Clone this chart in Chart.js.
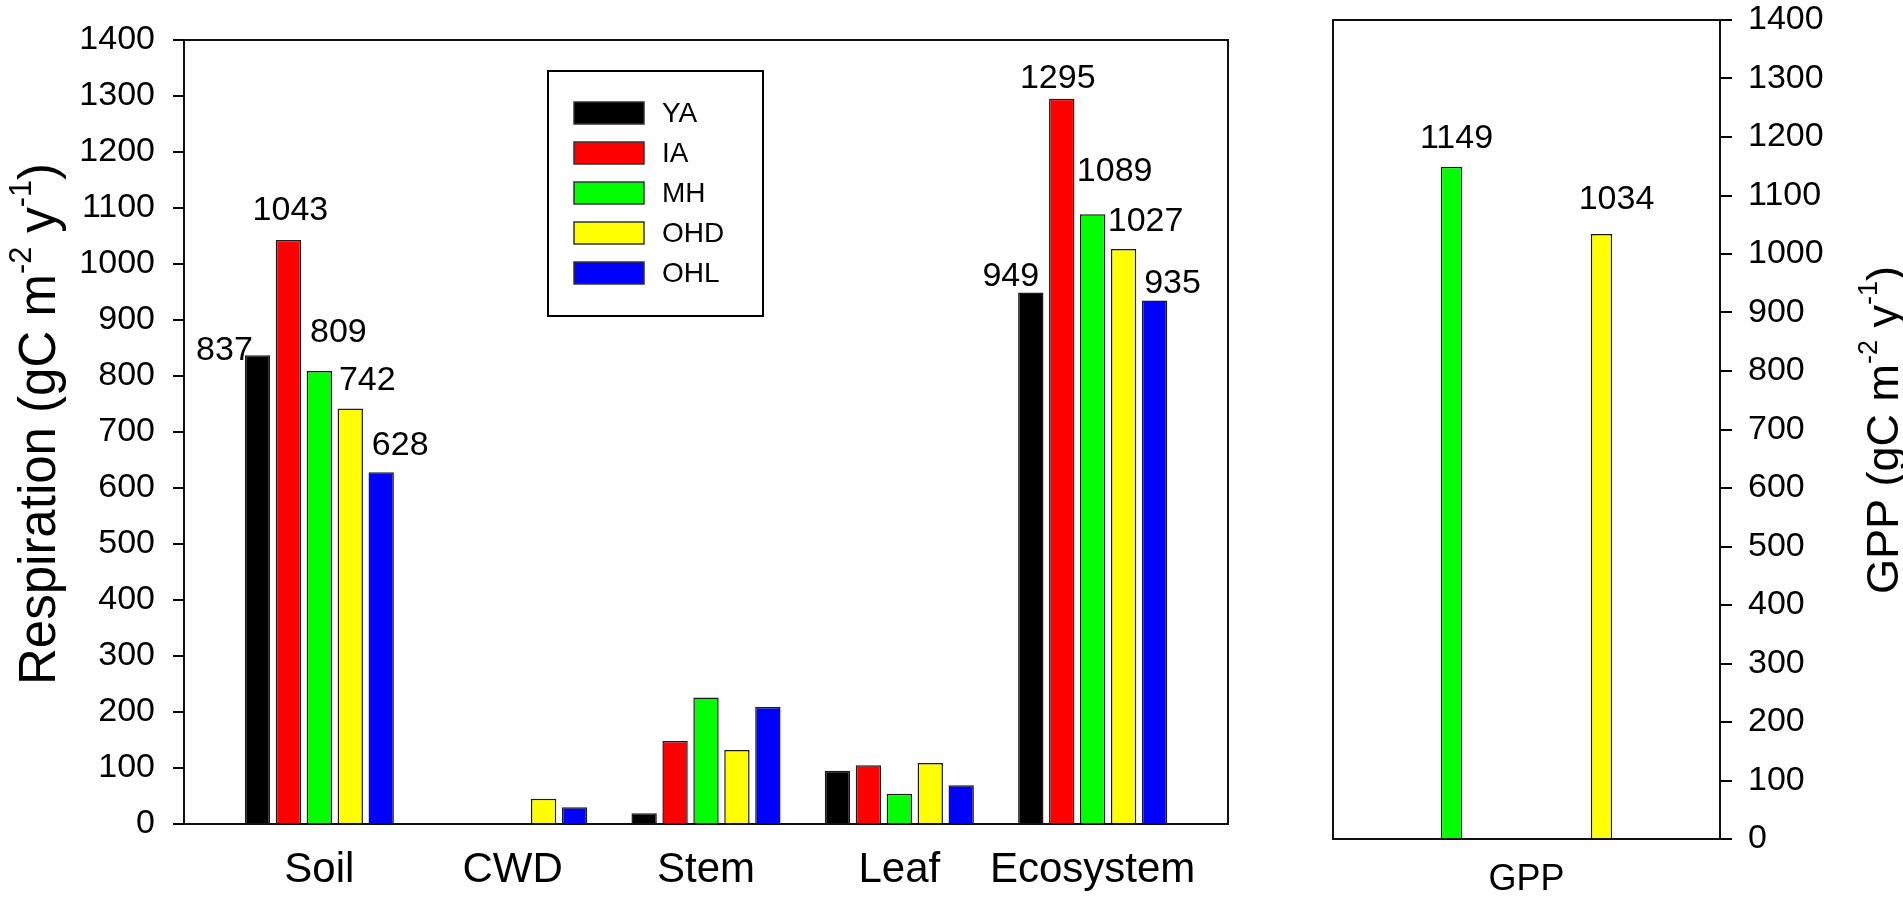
<!DOCTYPE html>
<html>
<head>
<meta charset="utf-8">
<script src="https://cdn.jsdelivr.net/npm/chart.js@4.4.1/dist/chart.umd.min.js"></script>
<style>
  html, body { margin: 0; padding: 0; background: #ffffff; }
  body { width: 1903px; height: 901px; position: relative; overflow: hidden; }
  #left { position: absolute; left: 0; top: 0; }
  #right { position: absolute; left: 1300px; top: 0; }
</style>
</head>
<body>
<canvas id="left" width="1300" height="901"></canvas>
<canvas id="right" width="603" height="901"></canvas>
<script>
// ---------------- data ----------------
const categories = ['Soil', 'CWD', 'Stem', 'Leaf', 'Ecosystem'];
const seriesNames = ['YA', 'IA', 'MH', 'OHD', 'OHL'];
const YA  = [837, null, 19, 95, 949];
const IA  = [1043, null, 148, 105, 1295];
const MH  = [809, null, 226, 54, 1089];
const OHD = [742, 45, 132, 109, 1027];
const OHL = [628, 30, 209, 69, 935];

const gppCategories = ['GPP'];
const gppSeriesNames = ['MH', 'OHD'];
const gppMH  = [1149];
const gppOHD = [1034];

const yMin = 0, yMax = 1400, yStep = 100;
const labelledCategories = ['Soil', 'Ecosystem'];

// ---------------- styles ----------------
const FONT = '"Liberation Sans", Arial, Helvetica, sans-serif';
const seriesColors = ['#000000', '#ff0000', '#00ff00', '#ffff00', '#0000ff'];
const gppColors = ['#00ff00', '#ffff00'];
// value-label nudges [dx, lift] in px relative to the bar's top centre
const labelNudges = {
  Soil:      [[-33, -5], [2, 20], [19, 29], [17, 18], [19, 17]],
  Ecosystem: [[-20, 7], [-4, 11], [22, 33], [22, 18], [18, 7]]
};
const gppLabelNudges = [[5, 19], [15, 25]];

// ---------------- plugins ----------------
function frame(color, width) {
  return {
    id: 'frame',
    afterDatasetsDraw(chart) {
      const a = chart.chartArea, ctx = chart.ctx;
      ctx.save();
      ctx.strokeStyle = color;
      ctx.lineWidth = width;
      ctx.strokeRect(a.left, a.top, a.right - a.left, a.bottom - a.top);
      ctx.restore();
    }
  };
}

function rotatedTitle(parts, baselineX, centerY, size) {
  return {
    id: 'rotTitle',
    afterDraw(chart) {
      const ctx = chart.ctx;
      const sup = size * 0.6;
      ctx.save();
      let total = 0;
      const widths = parts.map(p => {
        ctx.font = (p.sup ? sup : size) + 'px ' + FONT;
        const w = ctx.measureText(p.t).width;
        total += w;
        return w;
      });
      ctx.translate(baselineX, centerY);
      ctx.rotate(-Math.PI / 2);
      ctx.fillStyle = '#000';
      ctx.textBaseline = 'alphabetic';
      ctx.textAlign = 'left';
      let x = -total / 2;
      parts.forEach((p, i) => {
        ctx.font = (p.sup ? sup : size) + 'px ' + FONT;
        ctx.fillText(p.t, x, p.sup ? -size * 0.47 : 0);
        x += widths[i];
      });
      ctx.restore();
    }
  };
}

function valueLabels(getNudge) {
  return {
    id: 'valueLabels',
    afterDatasetsDraw(chart) {
      const ctx = chart.ctx;
      ctx.save();
      ctx.font = '34px ' + FONT;
      ctx.fillStyle = '#000';
      ctx.textAlign = 'center';
      ctx.textBaseline = 'alphabetic';
      chart.data.datasets.forEach((ds, di) => {
        const meta = chart.getDatasetMeta(di);
        meta.data.forEach((bar, j) => {
          const v = ds.data[j];
          const val = (v && typeof v === 'object') ? v.y : v;
          if (val === null || val === undefined) return;
          const n = getNudge(di, j);
          if (!n) return;
          ctx.fillText(String(val), bar.x + n[0], bar.y - n[1]);
        });
      });
      ctx.restore();
    }
  };
}

const legendBox = {
  id: 'legendBox',
  afterDraw(chart) {
    const ctx = chart.ctx;
    ctx.save();
    ctx.strokeStyle = '#000';
    ctx.lineWidth = 2;
    ctx.strokeRect(548, 71, 215, 245);
    ctx.font = '28px ' + FONT;
    ctx.textBaseline = 'middle';
    ctx.textAlign = 'left';
    chart.data.datasets.forEach((ds, i) => {
      const cy = 113 + i * 40;
      ctx.fillStyle = ds.backgroundColor;
      ctx.fillRect(574, cy - 11, 70, 22);
      ctx.strokeStyle = '#333';
      ctx.lineWidth = 1.5;
      ctx.strokeRect(574, cy - 11, 70, 22);
      ctx.fillStyle = '#000';
      ctx.fillText(ds.label, 662, cy + 1);
    });
    ctx.restore();
  }
};

const plainNumber = (v) => String(v);

// ---------------- left chart ----------------
const seriesValues = [YA, IA, MH, OHD, OHL];
const leftDatasets = seriesNames.map((name, i) => ({
  label: name,
  data: categories.map((c, k) => ({ x: k, y: seriesValues[i][k] })),
  backgroundColor: seriesColors[i],
  borderColor: '#1a1a1a',
  borderWidth: 1.5,
  categoryPercentage: 0.8,
  barPercentage: 0.82
}));

new Chart(document.getElementById('left'), {
  type: 'bar',
  data: { datasets: leftDatasets },
  options: {
    responsive: false,
    animation: false,
    devicePixelRatio: 1,
    layout: { padding: { top: 40, right: 72, bottom: 0, left: 0 } },
    plugins: { legend: { display: false }, tooltip: { enabled: false } },
    scales: {
      x: {
        type: 'linear',
        offset: false,
        bounds: 'data',
        min: -0.7,
        max: 4.7,
        afterBuildTicks(axis) { axis.ticks = categories.map((c, k) => ({ value: k })); },
        afterFit(axis) { axis.height = 77; axis.paddingLeft = 0; axis.paddingRight = 0; },
        grid: { display: false, drawTicks: false, offset: false },
        border: { display: false },
        ticks: {
          autoSkip: false, maxRotation: 0, minRotation: 0, padding: 21,
          color: '#000', font: { family: FONT, size: 42 },
          callback: (v) => categories[v] !== undefined ? categories[v] : ''
        }
      },
      y: {
        min: yMin, max: yMax,
        afterFit(axis) { axis.width = 184; axis.paddingTop = 0; axis.paddingBottom = 0; },
        grid: { drawOnChartArea: false, drawTicks: true, tickLength: 11, color: '#000', lineWidth: 2 },
        border: { display: false },
        ticks: { stepSize: yStep, padding: 18, color: '#000', font: { family: FONT, size: 34 }, callback: plainNumber }
      }
    }
  },
  plugins: [
    frame('#111', 2),
    valueLabels((di, j) => {
      const c = categories[j];
      return labelledCategories.includes(c) ? labelNudges[c][di] : null;
    }),
    legendBox,
    rotatedTitle([
      { t: 'Respiration (gC m' }, { t: '-2', sup: true }, { t: ' y' }, { t: '-1', sup: true }, { t: ')' }
    ], 55, 424, 51)
  ]
});

// ---------------- right chart ----------------
const gppValues = [gppMH, gppOHD];
const rightDatasets = gppSeriesNames.map((name, i) => ({
  label: name,
  data: gppValues[i],
  backgroundColor: gppColors[i],
  borderColor: '#1a1a1a',
  borderWidth: 1.5,
  categoryPercentage: 0.775,
  barPercentage: 0.143
}));

new Chart(document.getElementById('right'), {
  type: 'bar',
  data: { labels: gppCategories, datasets: rightDatasets },
  options: {
    responsive: false,
    animation: false,
    devicePixelRatio: 1,
    layout: { padding: { top: 20, right: 0, bottom: 0, left: 33 } },
    plugins: { legend: { display: false }, tooltip: { enabled: false } },
    scales: {
      x: {
        afterFit(axis) { axis.height = 62; axis.paddingLeft = 0; axis.paddingRight = 0; },
        grid: { display: false, drawTicks: false },
        border: { display: false },
        ticks: { padding: 19, color: '#000', font: { family: FONT, size: 36 } }
      },
      y: {
        position: 'right',
        min: yMin, max: yMax,
        afterFit(axis) { axis.width = 183; axis.paddingTop = 0; axis.paddingBottom = 0; },
        grid: { drawOnChartArea: false, drawTicks: true, tickLength: 12, color: '#000', lineWidth: 2 },
        border: { display: false },
        ticks: { stepSize: yStep, padding: 16, color: '#000', font: { family: FONT, size: 34 }, callback: plainNumber }
      }
    }
  },
  plugins: [
    frame('#111', 2),
    valueLabels((di, j) => gppLabelNudges[di]),
    rotatedTitle([
      { t: 'GPP (gC m' }, { t: '-2', sup: true }, { t: ' y' }, { t: '-1', sup: true }, { t: ')' }
    ], 598, 430, 45)
  ]
});
</script>
</body>
</html>
